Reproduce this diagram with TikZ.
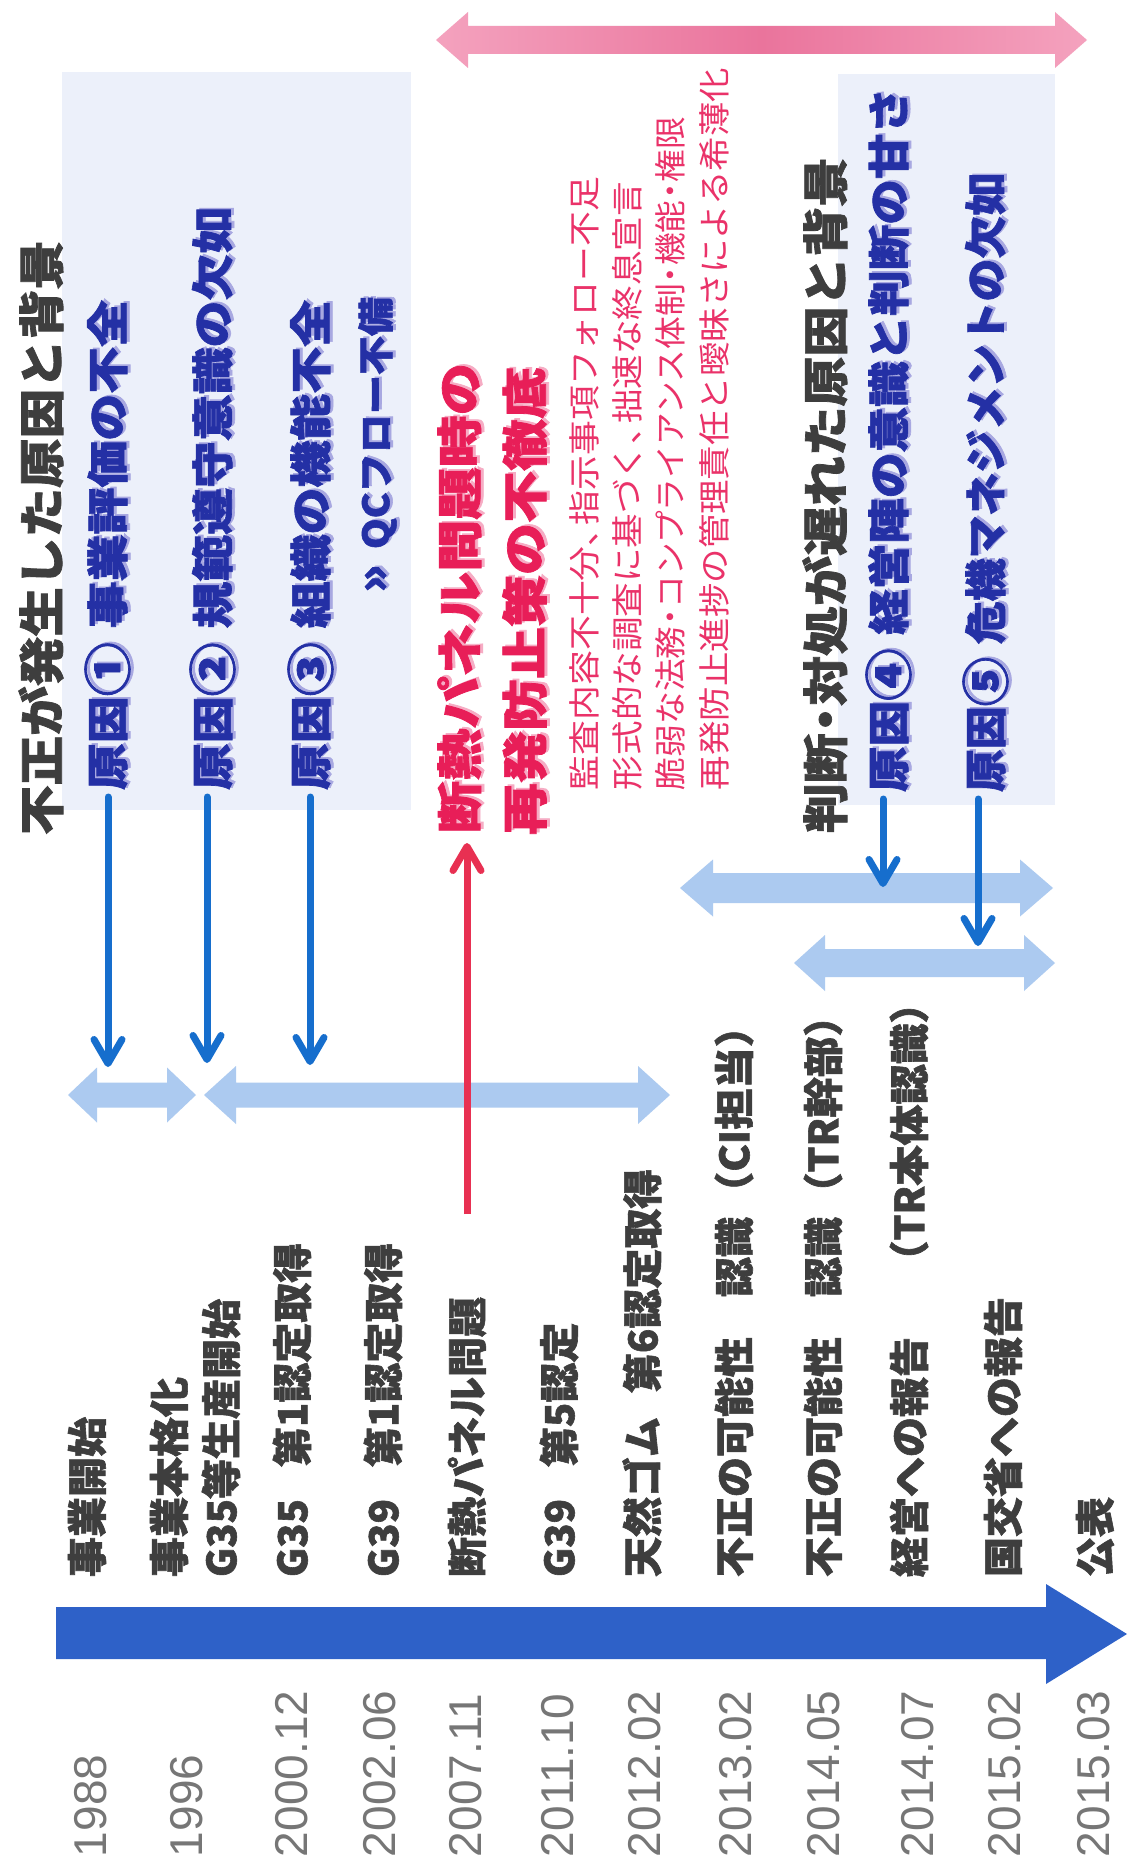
\documentclass[tikz,border=0pt]{standalone}
\usepackage{fontspec}
\usepackage{graphicx}
\usetikzlibrary{arrows.meta}
\newfontfamily\jp{Noto Sans CJK JP}[BoldFeatures={FakeBold=1.5}]
\newfontfamily\lat{Liberation Sans}
\definecolor{txtgray}{RGB}{62,62,62}
\definecolor{dategray}{RGB}{118,118,118}
\definecolor{causeblue}{RGB}{36,48,165}
\definecolor{causeshadow}{RGB}{168,168,225}
\definecolor{pinkbold}{RGB}{232,30,88}
\definecolor{pinkshadow}{RGB}{246,172,196}
\definecolor{pinksmall}{RGB}{234,50,105}
\definecolor{arrowblue}{RGB}{22,110,205}
\definecolor{arrowred}{RGB}{232,48,82}
\definecolor{lightbar}{RGB}{172,202,240}
\definecolor{panelblue}{RGB}{236,240,250}
\definecolor{timeblue}{RGB}{46,97,200}
\definecolor{pinkL}{RGB}{244,162,190}
\definecolor{pinkD}{RGB}{234,116,156}
\newcommand\fitlen[2]{\resizebox{#1}{\height}{#2}}
\newcommand\shadowtext[2]{\makebox[0pt][l]{\kern1.5pt\raisebox{-3pt}{\textcolor{#1}{#2}}}#2}
\newcommand\jpdot{\makebox[0.55em][c]{・}}
\newcommand\jpcomma{\makebox[0.6em][l]{、}}
\newcommand\circnum[1]{\raisebox{-0.06em}{\scalebox{1.15}{#1}}}
\newcommand\dblarrow[7]{%
  \fill[#1] (#2,#4) -- (#2+#7,#4-#6) -- (#2+#7,#4-#5) -- (#3-#7,#4-#5) -- (#3-#7,#4-#6)
    -- (#3,#4) -- (#3-#7,#4+#6) -- (#3-#7,#4+#5) -- (#2+#7,#4+#5) -- (#2+#7,#4+#6) -- cycle;}
\tikzset{
  rot/.style={rotate=90, anchor=west, inner sep=0pt, outer sep=0pt},
  headline/.style={rot, text=txtgray, font=\jp\bfseries\fontsize{46}{46}\selectfont},
  cause/.style={rot, text=causeblue, font=\jp\bfseries\fontsize{42}{42}\selectfont},
  pinkhead/.style={rot, text=pinkbold, font=\jp\bfseries\fontsize{46}{46}\selectfont},
  pinknote/.style={rot, text=pinksmall, font=\jp\fontsize{32}{32}\selectfont},
  event/.style={rot, text=txtgray, font=\jp\bfseries\fontsize{40}{40}\selectfont},
  datelbl/.style={rot, text=dategray, font=\lat\fontsize{46}{46}\selectfont},
  causearrow/.style={draw=arrowblue, line width=7pt, line cap=round,
    -{Straight Barb[length=24pt,width=28pt,round]}, shorten <=7pt},
  redarrow/.style={draw=arrowred, line width=7pt,
    -{Straight Barb[length=24pt,width=28pt,round]}},
}
\begin{document}
\begin{tikzpicture}[x=1pt,y=-1pt]
\useasboundingbox (0,0) rectangle (1129,1865);
\fill[white] (0,0) rectangle (1129,1865);
% panels
\fill[panelblue] (62,72) rectangle (411,810);
\fill[panelblue] (838,74) rectangle (1055,805);
% pink period arrow
\shade[left color=pinkL, right color=pinkL, middle color=pinkD]
  (436,40) -- (468,12) -- (468,26) -- (1055,26) -- (1055,12) -- (1087,40)
  -- (1055,68) -- (1055,54) -- (468,54) -- (468,68) -- cycle;
% light blue period bars
\dblarrow{lightbar}{68}{196}{1095}{12.5}{27.5}{29}
\dblarrow{lightbar}{204}{670}{1095}{12.5}{29}{32}
\dblarrow{lightbar}{680}{1053}{888}{15}{28.5}{33}
\dblarrow{lightbar}{794}{1055}{963}{14}{28}{31}
% time axis
\fill[timeblue] (56,1607) -- (1046,1607) -- (1046,1584) -- (1127,1634)
  -- (1046,1684) -- (1046,1659) -- (56,1659) -- cycle;

% headings
\node[headline] (title1) at (41,835) {\fitlen{595pt}{不正が発生した原因と背景}};
\node[headline] (title2) at (825,833) {\fitlen{676pt}{判断\jpdot 対処が遅れた原因と背景}};

% causes
\node[cause] (c1) at (109,790) {\fitlen{490pt}{\shadowtext{causeshadow}{原因\circnum{①}\hspace{0.3em}事業評価の不全}}};
\node[cause] (c2) at (214,790) {\fitlen{583pt}{\shadowtext{causeshadow}{原因\circnum{②}\hspace{0.3em}規範遵守意識の欠如}}};
\node[cause] (c3) at (312,790) {\fitlen{490pt}{\shadowtext{causeshadow}{原因\circnum{③}\hspace{0.3em}組織の機能不全}}};
\node[cause, font=\jp\bfseries\fontsize{36}{36}\selectfont] (qc) at (379,593) {\fitlen{296pt}{\shadowtext{causeshadow}{\scalebox{1.3}{»}\hspace{0.4em}QCフロー不備}}};
\node[cause] (c4) at (890,792) {\fitlen{704pt}{\shadowtext{causeshadow}{原因\circnum{④}\hspace{0.3em}経営陣の意識と判断の甘さ}}};
\node[cause] (c5) at (987,792) {\fitlen{619pt}{\shadowtext{causeshadow}{原因\circnum{⑤}\hspace{0.3em}危機マネジメントの欠如}}};

% pink block
\node[pinkhead] (p1) at (461,833) {\fitlen{470pt}{\shadowtext{pinkshadow}{断熱パネル問題時の}}};
\node[pinkhead] (p2) at (526,835) {\fitlen{468pt}{\shadowtext{pinkshadow}{再発防止策の不徹底}}};
\node[pinknote] (n1) at (584,790) {\fitlen{613pt}{監査内容不十分\jpcomma 指示事項フォロー不足}};
\node[pinknote] (n2) at (627,790) {\fitlen{608pt}{形式的な調査に基づく\jpcomma 拙速な終息宣言}};
\node[pinknote] (n3) at (670,790) {\fitlen{673pt}{脆弱な法務\jpdot コンプライアンス体制\jpdot 機能\jpdot 権限}};
\node[pinknote] (n4) at (714,790) {\fitlen{722pt}{再発防止進捗の管理責任と曖昧さによる希薄化}};

% events
\node[event] (e1) at (87,1577) {事業開始};
\node[event] (e2) at (169,1577) {事業本格化};
\node[event] (e3) at (221,1577) {G35等生産開始};
\node[event] (e4) at (292,1577) {G35\hspace{0.8em}第1認定取得};
\node[event] (e5) at (383,1577) {G39\hspace{0.8em}第1認定取得};
\node[event] (e6) at (467,1577) {断熱パネル問題};
\node[event] (e7) at (559,1577) {G39\hspace{0.8em}第5認定};
\node[event] (e8) at (642,1577) {天然ゴム\hspace{0.6em}第6認定取得};
\node[event] (e9) at (734,1577) {不正の可能性　認識\hspace{0.1em}\fitlen{207pt}{（CI担当）}};
\node[event] (e10) at (823,1577) {不正の可能性　認識\hspace{0.1em}\fitlen{217pt}{（TR幹部）}};
\node[event] (e11) at (909,1577) {経営への報告\hspace{1.4em}\fitlen{298pt}{（TR本体認識）}};
\node[event] (e12) at (1003,1577) {国交省への報告};
\node[event] (e13) at (1095,1577) {公表};

% dates
\node[datelbl] (d1) at (91,1857) {1988};
\node[datelbl] (d2) at (187,1857) {1996};
\node[datelbl] (d3) at (292,1857) {2000.12};
\node[datelbl] (d4) at (380,1857) {2002.06};
\node[datelbl] (d5) at (466,1857) {2007.11};
\node[datelbl] (d6) at (558,1857) {2011.10};
\node[datelbl] (d7) at (645,1857) {2012.02};
\node[datelbl] (d8) at (736,1857) {2013.02};
\node[datelbl] (d9) at (824,1857) {2014.05};
\node[datelbl] (d10) at (918,1857) {2014.07};
\node[datelbl] (d11) at (1005,1857) {2015.02};
\node[datelbl] (d12) at (1094,1857) {2015.03};

% cause arrows
\coordinate (a1) at (108,1067);
\coordinate (a2) at (207,1063);
\coordinate (a3) at (310,1065);
\coordinate (a4) at (883,887);
\coordinate (a5) at (978,946);
\draw[causearrow] (c1.west -| a1) -- (a1);
\draw[causearrow] (c2.west -| a2) -- (a2);
\draw[causearrow] (c3.west -| a3) -- (a3);
\draw[causearrow] (c4.west -| a4) -- (a4);
\draw[causearrow] (c5.west -| a5) -- (a5);
% red arrow
\draw[redarrow, shorten <=83pt, shorten >=10pt] (e6.east) -- (p1.west -| e6.east);
\end{tikzpicture}
\end{document}
